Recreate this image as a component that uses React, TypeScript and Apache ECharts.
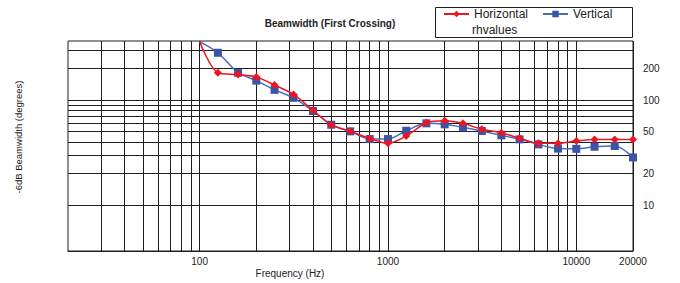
import React, { useEffect, useRef } from "react";
import * as echarts from "echarts";

const freqs = [100, 125, 160, 200, 250, 315, 400, 500, 630, 800, 1000, 1250, 1600, 2000, 2500, 3150, 4000, 5000, 6300, 8000, 10000, 12500, 16000, 20000];
const horizontal = [360, 182, 175, 166, 139, 113, 80, 58, 50.5, 43, 38.7, 45.4, 60.8, 63.5, 60, 52.6, 48.8, 43.2, 38.7, 38.7, 40.7, 42, 42, 42];
const vertical = [360, 282, 182, 153, 125, 105, 78.6, 58.2, 50.3, 42.5, 42.5, 51, 60, 58.7, 55, 50.7, 46.1, 42.2, 37.8, 34.5, 34.3, 35.9, 36.5, 28.4];

const xGridValues = [30, 40, 50, 60, 70, 80, 90, 100, 200, 300, 400, 500, 600, 700, 800, 900, 1000, 2000, 3000, 4000, 5000, 6000, 7000, 8000, 9000, 10000, 20000];
const xTickLabels = [100, 1000, 10000, 20000];
const yGridValues = [10, 20, 30, 40, 50, 60, 70, 80, 90, 100, 200, 300];
const yTickLabels = [200, 100, 50, 20, 10];

const X_MIN = 20;
const X_MAX = 20000;
const Y_MIN = 3.65;
const Y_MAX = 365;

const FONT = "'Liberation Sans', Arial, sans-serif";
const RED = "#f0141e";
const BLUE = "#3a55a8";
const BLUE_LINE = "#4a6cc0";
const GRID = "#1f1f1f";

export default function App() {
  const ref = useRef<HTMLDivElement>(null);

  useEffect(() => {
    if (!ref.current) return;
    const chart = echarts.init(ref.current, null, { renderer: "svg" });

    const mkData = (vals: number[]) =>
      freqs.map((f, i) =>
        i === 0
          ? { value: [f, vals[i]], symbol: "none" }
          : { value: [f, vals[i]] }
      );

    const vLines = xGridValues.map((v) => ({
      xAxis: v,
      label: {
        show: xTickLabels.indexOf(v) >= 0,
        position: "start",
        distance: 5,
        formatter: String(v),
        color: "#222",
        fontSize: 10,
        fontFamily: FONT,
      },
    }));
    const hLines = yGridValues.map((v) => ({
      yAxis: v,
      label: {
        show: yTickLabels.indexOf(v) >= 0,
        position: "end",
        distance: 10,
        formatter: String(v),
        color: "#222",
        fontSize: 10,
        fontFamily: FONT,
        align: "left",
      },
    }));

    chart.setOption({
      animation: false,
      textStyle: { fontFamily: FONT },
      grid: {
        left: 68,
        right: 47,
        top: 41,
        bottom: 32,
        show: true,
        borderColor: GRID,
        borderWidth: 1,
        backgroundColor: "transparent",
      },
      xAxis: {
        type: "log",
        logBase: 10,
        min: X_MIN,
        max: X_MAX,
        axisLabel: { show: false },
        axisTick: { show: false },
        splitLine: { show: false },
        axisLine: { show: true, lineStyle: { color: GRID, width: 1 } },
      },
      yAxis: {
        type: "log",
        logBase: 10,
        min: Y_MIN,
        max: Y_MAX,
        position: "right",
        axisLabel: { show: false },
        axisTick: { show: false },
        splitLine: { show: false },
        axisLine: { show: false },
      },
      legend: {
        data: ["Horizontal", "Vertical"],
        left: 443,
        top: 8,
        padding: 0,
        itemWidth: 25,
        itemHeight: 8,
        itemGap: 14,
        textStyle: { fontSize: 12, color: "#222", fontFamily: FONT },
      },
      graphic: [
        {
          type: "rect",
          shape: { x: 435.5, y: 7.5, width: 197, height: 30 },
          style: { fill: "#fff", stroke: GRID, lineWidth: 1 },
          z: -1,
        },
        {
          type: "text",
          x: 472,
          y: 30,
          style: {
            text: "rhvalues",
            fontSize: 12,
            fontFamily: FONT,
            fill: "#222",
            verticalAlign: "middle",
          },
        },
        {
          type: "text",
          x: 330,
          y: 23,
          style: {
            text: "Beamwidth (First Crossing)",
            fontSize: 10,
            fontWeight: "bold",
            fontFamily: FONT,
            fill: "#222",
            align: "center",
            verticalAlign: "middle",
          },
        },
        {
          type: "text",
          x: 290,
          y: 273,
          style: {
            text: "Frequency (Hz)",
            fontSize: 10,
            fontFamily: FONT,
            fill: "#222",
            align: "center",
            verticalAlign: "middle",
          },
        },
        {
          type: "text",
          x: 18,
          y: 137,
          rotation: Math.PI / 2,
          style: {
            text: "-6dB Beamwidth (degrees)",
            fontSize: 9.5,
            fontFamily: FONT,
            fill: "#222",
            align: "center",
            verticalAlign: "middle",
          },
        },
      ],
      series: [
        {
          name: "gridlines",
          type: "line",
          data: [],
          z: 1,
          silent: true,
          markLine: {
            z: 1,
            silent: true,
            symbol: "none",
            animation: false,
            lineStyle: { color: GRID, width: 1, type: "solid" },
            emphasis: { disabled: true },
            data: [...vLines, ...hLines],
          },
        },
        {
          name: "Horizontal",
          type: "line",
          z: 4,
          smooth: 0.3,
          symbol: "diamond",
          symbolSize: 8,
          data: mkData(horizontal),
          lineStyle: { color: RED, width: 1.5 },
          itemStyle: { color: RED },
        },
        {
          name: "Vertical",
          type: "line",
          z: 3,
          smooth: 0.3,
          symbol: "rect",
          symbolSize: 8,
          data: mkData(vertical),
          lineStyle: { color: BLUE_LINE, width: 1.5 },
          itemStyle: { color: BLUE },
        },
      ],
    });

    return () => chart.dispose();
  }, []);

  return (
    <div
      ref={ref}
      style={{ position: "absolute", left: 0, top: 0, width: 680, height: 283 }}
    />
  );
}
